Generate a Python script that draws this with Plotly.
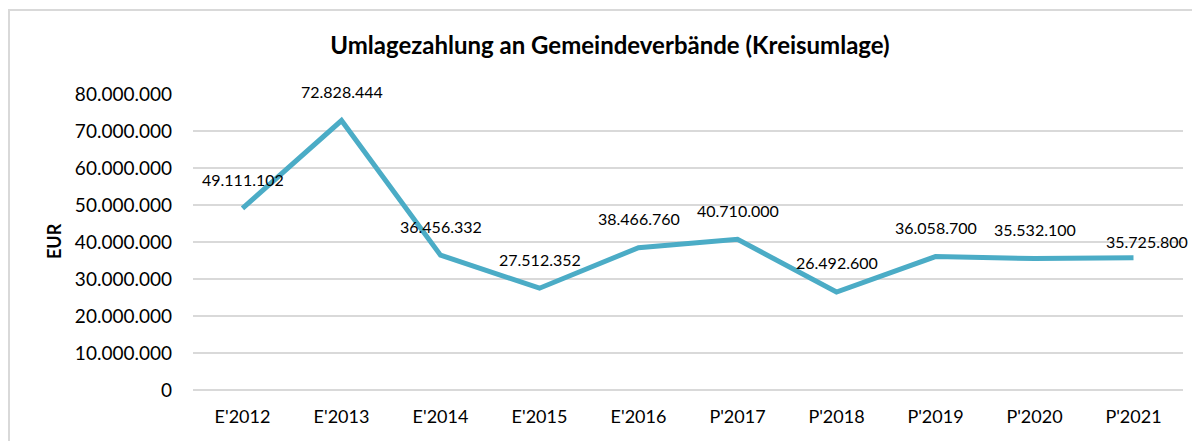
import plotly.graph_objects as go

categories = ["E'2012", "E'2013", "E'2014", "E'2015", "E'2016",
              "P'2017", "P'2018", "P'2019", "P'2020", "P'2021"]
values = [49111102, 72828444, 36456332, 27512352, 38466760,
          40710000, 26492600, 36058700, 35532100, 35725800]
y_ticks = [0, 10000000, 20000000, 30000000, 40000000,
           50000000, 60000000, 70000000, 80000000]

title_text = "Umlagezahlung an Gemeindeverbände (Kreisumlage)"
y_title = "EUR"


def de_fmt(v):
    return f"{v:,}".replace(",", ".")


# page body has an 8px default margin, so the figure starts at (8, 8)
OFF = 8
W, H = 1200 - OFF, 441 - OFF
L, R, T, B = 193 - OFF, 17, 94 - OFF, 51
pw, ph = W - L - R, H - T - B

FONT = "Lato"
LINE_COLOR = "#4BACC6"
GRID = "#D9D9D9"

fig = go.Figure()
fig.add_trace(go.Scatter(
    x=categories, y=values, mode="lines",
    line=dict(color=LINE_COLOR, width=5),
    hoverinfo="skip", showlegend=False,
))


def px_x(p):  # screen px -> paper
    return (p - OFF - L) / pw


def px_y(p):
    return (H - B - (p - OFF)) / ph


annotations = []
for i, (c, v) in enumerate(zip(categories, values)):
    xs, ys = 0, 29
    if i == len(categories) - 1:
        xs, ys = 13, 16
    annotations.append(dict(
        x=c, y=v, xref="x", yref="y", text=de_fmt(v), showarrow=False,
        xshift=xs, yshift=ys, font=dict(family=FONT, size=16, color="#000000"),
    ))

annotations.append(dict(
    x=px_x(54), y=px_y(241), xref="paper", yref="paper", text=f"<b>{y_title}</b>",
    showarrow=False, textangle=-90, xanchor="center", yanchor="middle",
    font=dict(family=FONT, size=18, color="#000000"),
))

fig.add_shape(type="rect", xref="paper", yref="paper",
              x0=px_x(9), x1=px_x(1215), y0=px_y(460), y1=px_y(10),
              line=dict(color=GRID, width=2), fillcolor="rgba(0,0,0,0)", layer="below")

fig.update_layout(
    width=W, height=H,
    margin=dict(l=L, r=R, t=T, b=B, pad=0),
    paper_bgcolor="white", plot_bgcolor="white",
    separators=",.",
    font=dict(family=FONT, color="#000000"),
    title=dict(text=f"<b>{title_text}</b>", x=(610 - OFF) / W, xref="container",
               xanchor="center", y=1 - (46 - OFF) / H, yanchor="middle",
               font=dict(family=FONT, size=24, color="#000000")),
    annotations=annotations,
    xaxis=dict(range=[-0.5, len(categories) - 0.5], showgrid=False,
               showline=False, zeroline=False, ticks="",
               tickfont=dict(family=FONT, size=18, color="#000000"),
               ticklabelstandoff=14),
    yaxis=dict(range=[0, 80000000], tickvals=y_ticks,
               tickformat=",d", showgrid=True, gridcolor=GRID, gridwidth=1.5,
               zeroline=True, zerolinecolor=GRID, zerolinewidth=1.5,
               showline=False, ticks="",
               tickfont=dict(family=FONT, size=19, color="#000000"),
               ticklabelstandoff=20),
)

fig.write_html("out.html")
